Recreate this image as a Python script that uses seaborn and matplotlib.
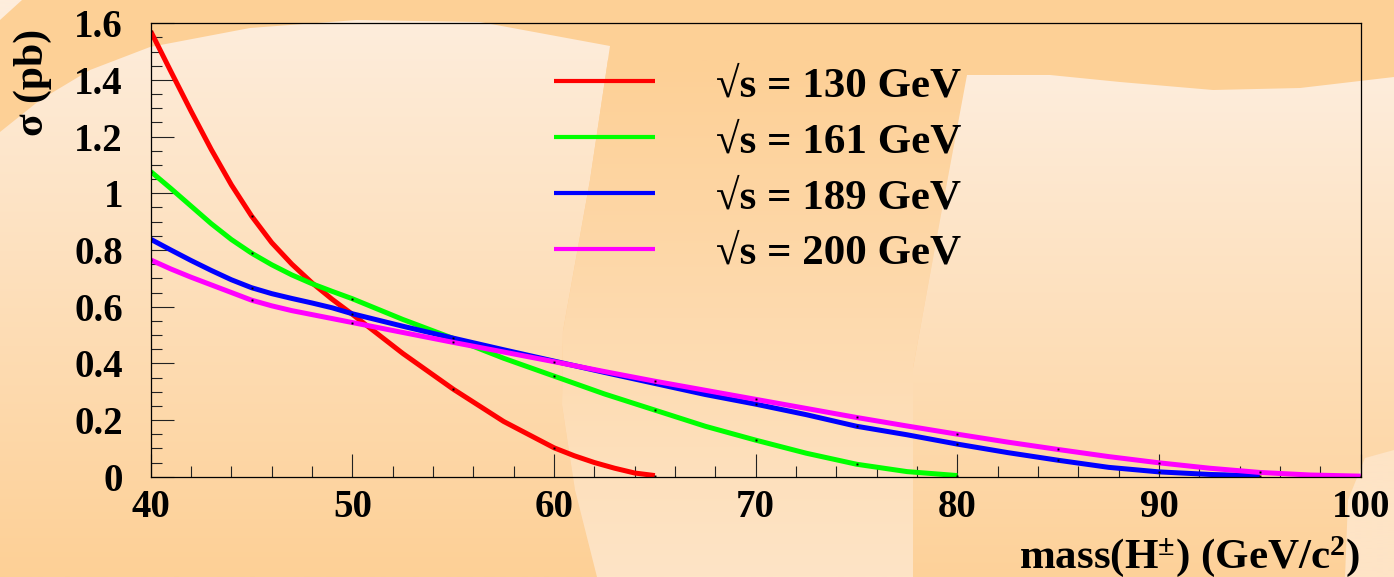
import numpy as np
import pandas as pd
import matplotlib
matplotlib.use("Agg")
import matplotlib.pyplot as plt
from matplotlib.patches import Polygon
from matplotlib.lines import Line2D
from matplotlib.ticker import MultipleLocator
import seaborn as sns

# Charged Higgs pair-production cross section vs. mass, for four LEP energies
mass_130 = [40, 41, 42, 43, 44, 45, 46, 47, 48, 49, 50, 52.5, 55, 57.5, 60,
            61, 62, 63, 64, 65]
xsec_130 = [1.572, 1.43, 1.29, 1.155, 1.03, 0.92, 0.826, 0.75, 0.684,
            0.626, 0.573, 0.435, 0.309, 0.195, 0.102, 0.074, 0.05, 0.03,
            0.013, 0.004]

mass_161 = [40, 41, 42, 43, 44, 45, 46, 47, 48, 49, 50, 52.5, 55, 57.5, 60,
            62.5, 65, 67.5, 70, 72.5, 75, 77.5, 80]
xsec_161 = [1.077, 1.017, 0.955, 0.893, 0.837, 0.789, 0.748, 0.712, 0.681,
            0.654, 0.628, 0.555, 0.488, 0.418, 0.355, 0.292, 0.235, 0.178,
            0.129, 0.083, 0.044, 0.018, 0.004]

mass_189 = [40, 41, 42, 43, 44, 45, 46, 47, 48, 49, 50, 52.5, 55, 57.5, 60,
            62.5, 65, 67.5, 70, 72.5, 75, 77.5, 80, 82.5, 85, 87.5, 90, 92.5, 95]
xsec_189 = [0.838, 0.800, 0.763, 0.728, 0.695, 0.667, 0.646, 0.629, 0.613,
            0.596, 0.575, 0.531, 0.489, 0.448, 0.408, 0.368, 0.329, 0.29,
            0.256, 0.219, 0.178, 0.148, 0.115, 0.085, 0.058, 0.033, 0.017,
            0.008, 0.003]

mass_200 = [40, 41, 42, 43, 44, 45, 46, 47, 48, 49, 50, 52.5, 55, 57.5, 60,
            62.5, 65, 67.5, 70, 72.5, 75, 77.5, 80, 82.5, 85, 87.5, 90, 92.5,
            95, 97.5, 100]
xsec_200 = [0.765, 0.733, 0.704, 0.677, 0.650, 0.623, 0.603, 0.586, 0.572,
            0.558, 0.544, 0.509, 0.474, 0.44, 0.406, 0.371, 0.337, 0.305,
            0.273, 0.241, 0.209, 0.179, 0.150, 0.122, 0.096, 0.071, 0.049,
            0.03, 0.015, 0.006, 0.002]

series_labels = ["√s = 130 GeV", "√s = 161 GeV", "√s = 189 GeV", "√s = 200 GeV"]
series_colors = ["#ff0000", "#00ff00", "#0000ff", "#ff00ff"]
series_mass = [mass_130, mass_161, mass_189, mass_200]
series_xsec = [xsec_130, xsec_161, xsec_189, xsec_200]

x_ticks = [40, 50, 60, 70, 80, 90, 100]
y_ticks = [0, 0.2, 0.4, 0.6, 0.8, 1.0, 1.2, 1.4, 1.6]
y_tick_labels = ["0", "0.2", "0.4", "0.6", "0.8", "1", "1.2", "1.4", "1.6"]

plt.rcParams["font.family"] = ["Liberation Serif", "DejaVu Serif"]
plt.rcParams["font.weight"] = "bold"
plt.rcParams["mathtext.fontset"] = "custom"
plt.rcParams["mathtext.rm"] = "Liberation Serif:bold"
plt.rcParams["mathtext.bf"] = "Liberation Serif:bold"
plt.rcParams["mathtext.it"] = "Liberation Serif:bold:italic"

W, H = 1394, 577
fig = plt.figure(figsize=(W / 100, H / 100), dpi=100)

# ---- decorative background (pixel coordinates, y downward) ----
bg = fig.add_axes([0, 0, 1, 1])
bg.set_xlim(0, W)
bg.set_ylim(H, 0)
bg.set_autoscale_on(False)
bg.axis("off")

orange = np.array([253, 208, 150]) / 255
cream = np.array([254, 237, 220]) / 255
peach = np.array([254, 228, 198]) / 255
bg.add_patch(plt.Rectangle((0, 0), W, H, color=orange, zorder=0))


def gradient_region(points, y_top, y_bot, c_top, c_bot):
    t = np.linspace(0, 1, 256)[:, None]
    img = ((1 - t) * c_top + t * c_bot).reshape(256, 1, 3)
    im = bg.imshow(img, extent=(0, W, y_bot, y_top), aspect="auto",
                   interpolation="bilinear", zorder=1)
    clip = Polygon(points, closed=True, transform=bg.transData,
                   facecolor="none", edgecolor="none")
    bg.add_patch(clip)
    im.set_clip_path(clip)


left_edge = [(610, 46), (590, 180), (563, 331), (562, 405), (575, 490), (597, 577)]
left_shape = [(0, 132), (40, 100), (90, 70), (150, 47), (250, 28), (357, 20),
              (480, 22)] + left_edge + [(0, 577)]
gradient_region(left_shape, 20, 577, cream, orange)

mid_shape = left_edge + [(913, 577), (913, 368), (940, 220), (967, 75), (900, 62), (610, 46)]
gradient_region(mid_shape, 60, 577, orange, peach)

right_shape = [(967, 75), (1040, 74), (1120, 82), (1213, 90), (1300, 88),
               (1394, 77), (1394, 577), (913, 577), (913, 368), (940, 220)]
gradient_region(right_shape, 75, 600, cream, orange)

corner_br = [(1394, 450), (1365, 458), (1348, 500), (1345, 577), (1394, 577)]
gradient_region(corner_br, 450, 577, peach, peach)
corner_tl = [(0, 0), (22, 0), (0, 20)]
gradient_region(corner_tl, 0, 20, cream, cream)

# ---- main plot ----
ax = fig.add_axes([150.7 / W, (H - 476.7) / H, (1360.7 - 150.7) / W, (476.7 - 23.3) / H])
ax.patch.set_alpha(0)

for m, s, c in zip(series_mass, series_xsec, series_colors):
    df = pd.DataFrame({"mass": m, "xsec": s})
    dots = [i for i, v in enumerate(m) if v % 5 == 0]
    sns.lineplot(data=df, x="mass", y="xsec", ax=ax, color=c, lw=3.6,
                 sort=False, estimator=None, legend=False,
                 marker="s", markersize=1.4, markevery=dots,
                 markerfacecolor="black", markeredgecolor="none",
                 solid_capstyle="butt", solid_joinstyle="round")

ax.set_xlim(40, 100)
ax.set_ylim(0, 1.6)
ax.set_xticks(x_ticks)
ax.set_xticklabels([str(v) for v in x_ticks])
ax.set_yticks(y_ticks)
ax.set_yticklabels(y_tick_labels)
ax.xaxis.set_minor_locator(MultipleLocator(2))
ax.yaxis.set_minor_locator(MultipleLocator(0.05))
ax.tick_params(which="both", direction="in", top=False, right=False,
               color="#222222", width=0.8)
ax.tick_params(which="major", length=16.5)
ax.tick_params(which="minor", length=8)
ax.tick_params(axis="x", which="major", labelsize=28, pad=9)
ax.tick_params(axis="y", which="major", labelsize=28, pad=20)
for lab in ax.get_xticklabels() + ax.get_yticklabels():
    lab.set_fontweight("bold")
for sp in ax.spines.values():
    sp.set_color("black")
    sp.set_linewidth(0.9)

ax.set_xlabel("")
ax.set_ylabel("")
fig.text(1360 / W, 1 - 568 / H, "mass(H$^{\\pm}$) (GeV/c$^{2}$)",
         ha="right", va="baseline", fontsize=31, fontweight="bold")
fig.text(33 / W, 1 - 82 / H, "σ (pb)", rotation=90, ha="center", va="center",
         fontsize=30, fontweight="bold")

handles = [Line2D([], [], color=c, lw=3.0, solid_capstyle="butt") for c in series_colors]
leg = fig.legend(handles, series_labels, loc="center left",
                 bbox_to_anchor=(554 / W, 1 - 169.5 / H), bbox_transform=fig.transFigure,
                 frameon=False, borderpad=0, borderaxespad=0,
                 handlelength=2.35, handletextpad=1.42, labelspacing=0.39,
                 prop={"family": ["Liberation Serif", "DejaVu Serif"],
                       "weight": "bold", "size": 31})

fig.savefig("out.png", dpi=100)
